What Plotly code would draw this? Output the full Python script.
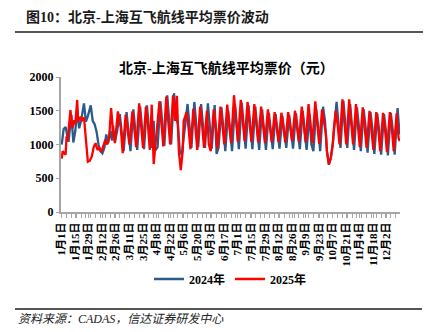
import plotly.graph_objects as go
from datetime import date, timedelta

# ---------------- data (month-day, value) ----------------
days_2024 = ["01-01","01-03","01-05","01-08","01-11","01-13","01-15","01-17","01-19","01-21","01-24","01-26","01-28","01-31",
             "02-02","02-04","02-06","02-08","02-10","02-12","02-14","02-16","02-18","02-20","02-22","02-23","02-25","02-27",
             "03-01","03-03","03-05","03-08","03-10","03-12","03-15","03-17","03-19","03-22","03-24","03-26","03-29","03-31",
             "04-02","04-05","04-06","04-09","04-12","04-14","04-16","04-19","04-21","04-23","04-26","04-28","04-30",
             "05-02","05-04","05-06","05-10","05-12","05-14","05-17","05-19","05-21","05-24","05-26","05-28","05-31",
             "06-02","06-04","06-07","06-09","06-11","06-14","06-16","06-18","06-21","06-23","06-25","06-28","06-30",
             "07-02","07-05","07-07","07-09","07-12","07-14","07-16","07-19","07-21","07-23","07-26","07-28","07-30",
             "08-02","08-04","08-06","08-09","08-11","08-13","08-16","08-18","08-20","08-23","08-25","08-27","08-30",
             "09-01","09-03","09-06","09-08","09-10","09-13","09-15","09-17","09-20","09-22","09-24","09-27","09-29",
             "10-01","10-03","10-05","10-07","10-11","10-13","10-15","10-18","10-20","10-22","10-25","10-27","10-29",
             "11-01","11-03","11-05","11-08","11-10","11-12","11-15","11-17","11-19","11-22","11-24","11-26","11-29",
             "12-01","12-03","12-06","12-08","12-10","12-13","12-15"]
fare_2024 = [1000,1230,1260,1040,1440,1030,1200,1510,1240,1350,1610,1340,1420,1580,
             1350,1300,1190,1000,900,870,950,1150,1020,1200,1060,1280,1050,1180,
             1450,1200,900,1480,1230,900,1520,1250,920,1560,1280,930,1580,1300,
             950,1350,900,960,1640,1300,980,1730,1350,1000,1760,1400,1300,
             900,850,1100,1600,1280,950,1630,1300,960,1600,1280,950,1610,
             1280,940,1585,860,950,1550,1250,900,1500,1230,900,1600,1300,
             930,1620,1300,940,1580,1280,930,1560,1260,920,1520,1230,920,
             1470,1200,930,1450,1200,940,1420,1180,950,1440,1200,940,1460,
             1210,930,1500,1230,920,1450,1000,900,1520,1250,900,1560,1350,
             900,700,800,1000,1630,1300,950,1650,1320,950,1600,1300,920,
             1550,1280,900,1520,1250,880,1480,1230,860,1460,1200,850,1450,
             1200,840,1470,1220,850,1540,1150]

days_2025 = ["01-01","01-02","01-03","01-05","01-06","01-07","01-10","01-12","01-14","01-15","01-17","01-18","01-20","01-22","01-24",
             "01-26","01-28","01-30","02-01","02-03","02-05","02-07","02-09","02-11","02-13","02-15","02-17","02-19","02-21",
             "02-23","02-25","02-28","03-02","03-04","03-07","03-09","03-11","03-14","03-16","03-18","03-21","03-23","03-25",
             "03-28","03-30","04-01","04-03","04-05","04-07","04-11","04-13","04-15","04-18","04-20","04-22","04-25","04-27",
             "04-29","05-01","05-03","05-05","05-06","05-09","05-11","05-13","05-16","05-18","05-20","05-23","05-25","05-27",
             "05-30","06-01","06-03","06-06","06-08","06-10","06-13","06-15","06-17","06-20","06-22","06-24","06-27","06-29",
             "07-01","07-04","07-06","07-08","07-11","07-13","07-15","07-18","07-20","07-22","07-25","07-27","07-29",
             "08-01","08-03","08-05","08-08","08-10","08-12","08-15","08-17","08-19","08-22","08-24","08-26","08-29",
             "08-31","09-02","09-05","09-07","09-09","09-12","09-14","09-16","09-19","09-21","09-23","09-26","09-28",
             "09-30","10-01","10-03","10-05","10-07","10-08","10-10","10-12","10-14","10-17","10-19","10-21","10-24",
             "10-26","10-28","10-31","11-02","11-04","11-07","11-09","11-11","11-14","11-16","11-18","11-21","11-23",
             "11-25","11-28","11-30","12-02","12-05","12-07","12-09","12-12","12-14","12-15"]
fare_2025 = [790,900,880,850,1120,1050,1510,1240,1360,1300,1660,1340,1410,1360,1400,
             1040,745,760,820,960,1020,920,950,890,980,1070,1000,1100,1540,
             1200,1020,1490,1250,870,1440,1200,1000,1490,1250,960,1610,1300,950,
             1560,1300,920,1590,710,1000,1640,1300,970,1710,1350,1000,1730,1350,
             1720,900,620,900,1350,1480,1250,930,1530,1280,920,1560,1300,950,
             1500,1000,900,1520,1300,940,1560,1300,1000,1590,1320,1020,1730,1350,
             1040,1660,1350,1050,1630,1320,1040,1600,1300,1030,1560,1280,1020,
             1520,1250,1030,1480,1240,1040,1470,1230,1030,1480,1250,1050,1500,
             1260,1040,1560,1280,1030,1600,1300,1020,1640,1300,1010,1520,1300,
             1150,900,710,800,1000,1200,1500,1300,1000,1670,1350,1000,1670,
             1350,1000,1600,1300,960,1550,1280,950,1500,1250,920,1480,1240,
             900,1470,1230,890,1480,1250,900,1460,1100,1050]

series_names = ["2024年", "2025年"]
series_colors = ["#2A5B8C", "#FF0000"]

tick_labels = ["1月1日","1月15日","1月29日","2月12日","2月26日","3月11日","3月25日","4月8日","4月22日",
               "5月6日","5月20日","6月3日","6月17日","7月1日","7月15日","7月29日","8月12日","8月26日",
               "9月9日","9月23日","10月7日","10月21日","11月4日","11月18日","12月2日"]
tick_dates = [(date(2024, 1, 1) + timedelta(days=14 * i)).isoformat() for i in range(len(tick_labels))]

AXIS_YEAR = "2024-"

# ---------------- geometry helpers ----------------
W, H = 436, 332
L, R, T, B = 61, 400, 77, 212


def px(x):
    return (x - L) / (R - L)


def py(y):
    return (B - y) / (B - T)


SERIF = "Liberation Serif, Noto Sans CJK SC, serif"

fig = go.Figure()
for name, color, days, vals in [(series_names[0], series_colors[0], days_2024, fare_2024),
                                (series_names[1], series_colors[1], days_2025, fare_2025)]:
    fig.add_trace(go.Scatter(
        x=[AXIS_YEAR + d for d in days], y=vals, mode="lines", name=name,
        line=dict(color=color, width=2.3),
    ))

fig.update_layout(
    width=W, height=H,
    margin=dict(l=L, r=W - R, t=T, b=H - B, pad=0),
    paper_bgcolor="white", plot_bgcolor="white",
    showlegend=True,
    legend=dict(orientation="h", x=0.5, xanchor="center", y=py(279), yanchor="middle",
                font=dict(family=SERIF, size=12, color="black", weight="bold"),
                itemwidth=30, tracegroupgap=0, bgcolor="rgba(0,0,0,0)"),
    xaxis=dict(type="date", range=["2023-12-31 06:00", "2024-12-15 12:00"],
               tickmode="array", tickvals=tick_dates, ticktext=tick_labels,
               tickangle=-90, tickfont=dict(family=SERIF, size=11, color="black", weight="bold"),
               showline=True, linecolor="#a6a6a6", linewidth=2,
               ticks="outside", ticklen=4, tickcolor="#a6a6a6", tickwidth=1,
               minor=dict(ticks="outside", ticklen=4, tickcolor="#a6a6a6", tickwidth=1,
                          dtick=5 * 86400000, tick0="2024-01-01"),
               showgrid=False, zeroline=False, fixedrange=True),
    yaxis=dict(range=[0, 2000], tickmode="linear", tick0=0, dtick=500,
               tickfont=dict(family=SERIF, size=12, color="black", weight="bold"),
               showline=True, linecolor="#a6a6a6", linewidth=2,
               ticks="outside", ticklen=3, tickcolor="#a6a6a6",
               showgrid=False, zeroline=False, fixedrange=True),
    font=dict(family=SERIF),
)

annotations = [
    dict(text="图10：北京-上海互飞航线平均票价波动", x=px(24), y=py(17), xanchor="left", yanchor="middle",
         font=dict(family=SERIF, size=14, color="#1a1a1a", weight="bold")),
    dict(text="北京-上海互飞航线平均票价（元）", x=px(226), y=py(68), xanchor="center", yanchor="middle",
         font=dict(family=SERIF, size=14, color="black", weight="bold")),
    dict(text="资料来源：CADAS，信达证券研发中心", x=px(16), y=py(319), xanchor="left", yanchor="middle",
         font=dict(family=SERIF, size=12, color="#222222", style="italic")),
]
for a in annotations:
    a.update(xref="paper", yref="paper", showarrow=False)
fig.update_layout(annotations=annotations)

shapes = [
    dict(type="line", x0=px(15), x1=px(423), y0=py(32), y1=py(32), line=dict(color="#555555", width=2)),
    dict(type="line", x0=px(15), x1=px(422), y0=py(309), y1=py(309), line=dict(color="#555555", width=2)),
]
for s in shapes:
    s.update(xref="paper", yref="paper", layer="above")
fig.update_layout(shapes=shapes)

fig.write_html("out.html")
